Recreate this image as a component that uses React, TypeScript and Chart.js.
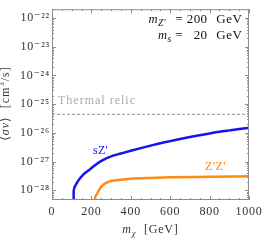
import React, { useEffect, useRef } from "react";
import { Chart, registerables } from "chart.js";

Chart.register(...registerables);

// ---- data ----
const massSZ = [109.5, 110, 111, 113, 117, 125, 137, 160, 187, 220, 253, 300, 350, 400, 450, 500, 550, 600, 650, 700, 750, 800, 850, 900, 950, 1000];
const sigmaSZ = [1e-31, 9.5e-29, 1.06e-28, 1.19e-28, 1.39e-28, 1.75e-28, 2.33e-28, 3.57e-28, 5.0e-28, 7.6e-28, 1.08e-27, 1.52e-27, 1.9e-27, 2.37e-27, 2.93e-27, 3.57e-27, 4.33e-27, 5.16e-27, 6.12e-27, 7.18e-27, 8.3e-27, 9.55e-27, 1.09e-26, 1.22e-26, 1.36e-26, 1.5e-26];

const massZZ = [216.5, 219, 222, 229, 240, 254, 270, 300, 350, 400, 500, 600, 800, 1000];
const sigmaZZ = [1e-31, 5.5e-29, 6.5e-29, 7.6e-29, 1.05e-28, 1.41e-28, 1.74e-28, 2.09e-28, 2.34e-28, 2.51e-28, 2.69e-28, 2.82e-28, 2.95e-28, 3.09e-28];

const thermalMass = [0, 1000];
const thermalSigma = [4.4e-26, 4.4e-26];

const xTicks = [0, 200, 400, 600, 800, 1000];
const xMinorStep = 50;
const yTickExponents = [-28, -27, -26, -25, -24, -23, -22];
const xRange = [0, 1000];
const yRange = [4.57e-29, 2.04e-22];

const paramNames = ["Z'", "s"];
const paramValues = ["200", "20"];
const paramUnit = "GeV";

const SERIF = "'Liberation Serif', 'DejaVu Serif', 'Times New Roman', serif";
const BLUE = "#1414f0";
const ORANGE = "#ff8a14";

const SUP: Record<string, string> = { "-": "\u207B", "0": "\u2070", "1": "\u00B9", "2": "\u00B2", "3": "\u00B3", "4": "\u2074", "5": "\u2075", "6": "\u2076", "7": "\u2077", "8": "\u2078", "9": "\u2079" };
const sup = (s: string) => s.split("").map((c) => SUP[c] ?? c).join("");

type Seg = { t: string; font: string; dy?: number };

function drawRich(ctx: any, segs: Seg[], x: number, y: number, align: "left" | "right" | "center", color: string, spacing = 0) {
  ctx.save();
  ctx.fillStyle = color;
  ctx.textBaseline = "alphabetic";
  ctx.textAlign = "left";
  ctx.letterSpacing = `${spacing}px`;
  let total = 0;
  const widths = segs.map((s) => {
    ctx.font = s.font;
    const w = ctx.measureText(s.t).width;
    total += w;
    return w;
  });
  let cx = align === "left" ? x : align === "right" ? x - total : x - total / 2;
  segs.forEach((s, i) => {
    ctx.font = s.font;
    ctx.fillText(s.t, cx, y + (s.dy ?? 0));
    cx += widths[i];
  });
  ctx.restore();
}

const framePlugin = {
  id: "frameAndText",
  beforeDraw(chart: any) {
    (chart.ctx as any).letterSpacing = "0.8px";
  },
  beforeDatasetsDraw(chart: any) {
    (chart.ctx as any).letterSpacing = "0px";
  },
  afterDatasetsDraw(chart: any) {
    const { ctx, chartArea } = chart;
    const { left, right, top, bottom } = chartArea;
    const xs = chart.scales.x;
    const ys = chart.scales.y;
    ctx.save();
    ctx.strokeStyle = "#8c8c8c";
    ctx.lineWidth = 1;
    ctx.beginPath();
    ctx.rect(left + 0.5, top + 0.5, right - left - 1, bottom - top - 1);
    for (let v = xRange[0]; v <= xRange[1]; v += xMinorStep) {
      const px = Math.round(xs.getPixelForValue(v)) + 0.5;
      const len = xTicks.includes(v) ? 4 : 2;
      ctx.moveTo(px, bottom);
      ctx.lineTo(px, bottom - len);
      ctx.moveTo(px, top);
      ctx.lineTo(px, top + len);
    }
    for (let e = yTickExponents[0] - 1; e <= yTickExponents[yTickExponents.length - 1]; e++) {
      for (let m = 1; m <= 9; m++) {
        const v = m * Math.pow(10, e);
        if (v < yRange[0] || v > yRange[1]) continue;
        const py = Math.round(ys.getPixelForValue(v)) + 0.5;
        const len = m === 1 ? 4 : 2;
        ctx.moveTo(left, py);
        ctx.lineTo(left + len, py);
        ctx.moveTo(right, py);
        ctx.lineTo(right - len, py);
      }
    }
    ctx.stroke();
    ctx.restore();

    const f = (size: number, italic = false) => `${italic ? "italic " : ""}${size}px ${SERIF}`;
    // parameter block: columns aligned like the reference
    const baselines = [23, 39];
    paramNames.forEach((name, i) => {
      const yb = baselines[i];
      drawRich(ctx, [
        { t: "m", font: f(12.5, true) },
        { t: name, font: f(9.5, true), dy: 3 },
      ], i === 0 ? 166 : 171.5, yb, "right", "#111", 0.4);
      drawRich(ctx, [{ t: "=", font: f(13) }], 179, yb, "center", "#111");
      drawRich(ctx, [{ t: paramValues[i], font: f(13) }], 207.5, yb, "right", "#111", 0.4);
      drawRich(ctx, [{ t: paramUnit, font: f(13) }], 242.5, yb, "right", "#111", 0.6);
    });
    drawRich(ctx, [{ t: "Thermal relic", font: f(12) }], 58, 104, "left", "#aaaaaa", 1);
    drawRich(ctx, [{ t: "sZ'", font: f(12) }], 93, 154, "left", BLUE, 0.3);
    drawRich(ctx, [{ t: "Z'Z'", font: f(12) }], 205, 170, "left", ORANGE, 0.5);
    drawRich(ctx, [
      { t: "m", font: f(12, true) },
      { t: "\u03C7", font: f(8.5, true), dy: 3 },
      { t: "  [GeV]", font: f(12) },
    ], (left + right) / 2, 233, "center", "#333", 0.8);
    ctx.save();
    ctx.translate(9, (top + bottom) / 2 - 1);
    ctx.rotate(-Math.PI / 2);
    drawRich(ctx, [
      { t: "\u27E8", font: f(12) },
      { t: "\u03C3v", font: f(12, true) },
      { t: "\u27E9  [cm", font: f(12) },
      { t: "3", font: f(8.5), dy: -5 },
      { t: "/s]", font: f(12) },
    ], 0, 0, "center", "#333", 1);
    ctx.restore();
  },
};

export default function App() {
  const ref = useRef<HTMLCanvasElement | null>(null);
  useEffect(() => {
    document.body.style.margin = "0";
    const canvas = ref.current!;
    const chart = new Chart(canvas, {
      type: "line",
      data: {
        datasets: [
          {
            label: "Thermal relic",
            data: thermalMass.map((m, i) => ({ x: m, y: thermalSigma[i] })),
            borderColor: "#a8a8a8",
            borderWidth: 1.3,
            borderDash: [3, 2],
            pointRadius: 0,
          },
          {
            label: "sZ'",
            data: massSZ.map((m, i) => ({ x: m, y: sigmaSZ[i] })),
            borderColor: BLUE,
            borderWidth: 2.5,
            pointRadius: 0,
            cubicInterpolationMode: "monotone",
          },
          {
            label: "Z'Z'",
            data: massZZ.map((m, i) => ({ x: m, y: sigmaZZ[i] })),
            borderColor: ORANGE,
            borderWidth: 2.5,
            pointRadius: 0,
            cubicInterpolationMode: "monotone",
          },
        ],
      },
      options: {
        animation: false,
        responsive: false,
        devicePixelRatio: 1,
        layout: { padding: { left: 0, right: 13, top: 0, bottom: 0 } },
        plugins: { legend: { display: false }, tooltip: { enabled: false } },
        scales: {
          x: {
            type: "linear",
            min: xRange[0],
            max: xRange[1],
            grid: { display: false, drawTicks: false },
            border: { display: false },
            afterBuildTicks: (s: any) => {
              s.ticks = xTicks.map((v) => ({ value: v }));
            },
            afterFit: (s: any) => {
              s.height = 41;
            },
            ticks: {
              autoSkip: false,
              maxRotation: 0,
              padding: 5,
              color: "#333",
              font: { family: SERIF, size: 12 },
              callback: (v: any) => String(v),
            },
          },
          y: {
            type: "logarithmic",
            min: yRange[0],
            max: yRange[1],
            grid: { display: false, drawTicks: false },
            border: { display: false },
            afterBuildTicks: (s: any) => {
              s.ticks = yTickExponents.map((e) => ({ value: Math.pow(10, e) }));
            },
            afterFit: (s: any) => {
              s.width = 52;
            },
            ticks: {
              autoSkip: false,
              padding: 2,
              color: "#333",
              font: { family: SERIF, size: 12 },
              callback: (v: any) => "10" + sup(String(Math.round(Math.log10(Number(v))))),
            },
          },
        },
      },
      plugins: [framePlugin],
    } as any);
    return () => chart.destroy();
  }, []);
  return (
    <div style={{ width: 266, height: 241 }}>
      <canvas ref={ref} width={266} height={241} style={{ width: 266, height: 241, display: "block" }} />
    </div>
  );
}
